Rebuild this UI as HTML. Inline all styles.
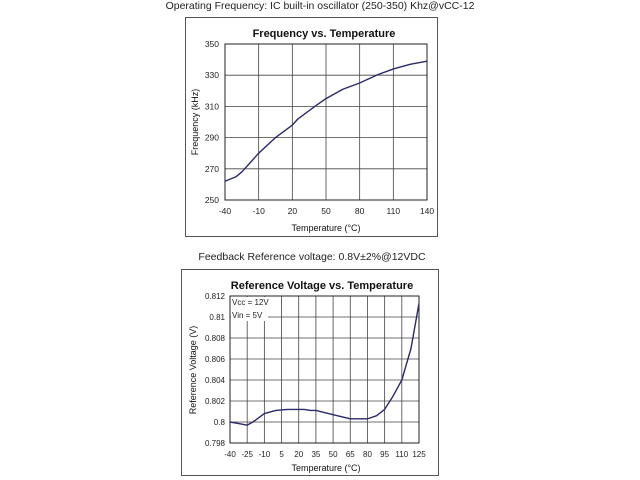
<!DOCTYPE html>
<html><head><meta charset="utf-8"><style>
body{margin:0;background:#fff;width:640px;height:480px;overflow:hidden;font-family:"Liberation Sans",sans-serif}
svg{position:absolute;left:0;top:0}
</style></head><body>
<svg id="s" width="640" height="480" xmlns="http://www.w3.org/2000/svg" font-family="Liberation Sans, sans-serif">
<text x="320" y="9" font-size="10.5" text-anchor="middle" fill="#222">Operating Frequency: IC built-in oscillator (250-350) Khz@vCC-12</text>
<rect x="185.5" y="17.5" width="252" height="219" fill="#fff" stroke="#555"/>
<text x="324" y="37" font-size="11" font-weight="bold" text-anchor="middle" fill="#111">Frequency vs. Temperature</text>
<text x="326" y="231" font-size="9" text-anchor="middle" fill="#111">Temperature (°C)</text>
<text transform="translate(198,122) rotate(-90)" font-size="9" text-anchor="middle" fill="#111">Frequency (kHz)</text>
<g id="g1"></g>
<text x="312" y="260" font-size="10.5" text-anchor="middle" fill="#222">Feedback Reference voltage: 0.8V±2%@12VDC</text>
<rect x="181.5" y="269.5" width="257" height="206" fill="#fff" stroke="#555"/>
<text x="322" y="289" font-size="11" font-weight="bold" text-anchor="middle" fill="#111">Reference Voltage vs. Temperature</text>
<text x="326" y="471" font-size="9" text-anchor="middle" fill="#111">Temperature (°C)</text>
<text transform="translate(196,370) rotate(-90)" font-size="9" text-anchor="middle" fill="#111">Reference Voltage (V)</text>
<g id="g2"></g>
</svg>
<script>
var NS="http://www.w3.org/2000/svg";
function el(p,t,a,tx){var e=document.createElementNS(NS,t);for(var k in a)e.setAttribute(k,a[k]);if(tx!=null)e.textContent=tx;p.appendChild(e);return e;}
// chart1
var g1=document.getElementById('g1');
var L=225,R=427,T=44,B=200;
function x1(t){return L+(t+40)/180*(R-L)} function y1(f){return B-(f-250)/100*(B-T)}
for(var t=-40;t<=140;t+=30){el(g1,'line',{x1:x1(t),x2:x1(t),y1:T,y2:B,stroke:'#444','stroke-width':0.8});el(g1,'text',{x:x1(t),y:B+14,'font-size':8.5,'text-anchor':'middle',fill:'#222'},t);}
for(var f=250;f<=350;f+=20){el(g1,'line',{x1:L,x2:R,y1:y1(f),y2:y1(f),stroke:'#444','stroke-width':0.8});el(g1,'text',{x:L-6,y:y1(f)+3,'font-size':8.5,'text-anchor':'end',fill:'#222'},f);}
el(g1,'rect',{x:L,y:T,width:R-L,height:B-T,fill:'none',stroke:'#222','stroke-width':1});
var p1=[[-40,262],[-30,265],[-25,268],[-10,280],[5,290],[20,298],[25,302],[40,310],[50,315],[65,321],[80,325],[95,330],[110,334],[125,337],[140,339]];
el(g1,'polyline',{points:p1.map(function(p){return x1(p[0])+','+y1(p[1])}).join(' '),fill:'none',stroke:'#2b2a6b','stroke-width':1.4,'stroke-linejoin':'round'});
// chart2
var g2=document.getElementById('g2');
var L2=230,R2=419,T2=296,B2=443;
function x2(t){return L2+(t+40)/165*(R2-L2)} function y2(v){return B2-(v-0.798)/0.014*(B2-T2)}
for(var t=-40;t<=125;t+=15){el(g2,'line',{x1:x2(t),x2:x2(t),y1:T2,y2:B2,stroke:'#444','stroke-width':0.8});el(g2,'text',{x:x2(t),y:B2+14,'font-size':8,'text-anchor':'middle',fill:'#222'},t);}
var vl=['0.798','0.8','0.802','0.804','0.806','0.808','0.81','0.812'];
for(var i=0;i<8;i++){var y=y2(0.798+i*0.002);el(g2,'line',{x1:L2,x2:R2,y1:y,y2:y,stroke:'#444','stroke-width':0.8});el(g2,'text',{x:L2-5,y:y+3,'font-size':8,'text-anchor':'end',fill:'#222'},vl[i]);}
el(g2,'rect',{x:L2+1,y:T2+1,width:37,height:24,fill:'#fff'});
el(g2,'text',{x:232,y:305,'font-size':8,fill:'#222'},'Vcc = 12V');
el(g2,'text',{x:232,y:318,'font-size':8,fill:'#222'},'Vin = 5V');
el(g2,'rect',{x:L2,y:T2,width:R2-L2,height:B2-T2,fill:'none',stroke:'#222','stroke-width':1});
var p2=[[-40,0.8],[-30,0.7998],[-25,0.7997],[-20,0.8],[-10,0.8008],[0,0.8011],[10,0.8012],[25,0.8012],[30,0.8011],[35,0.8011],[50,0.8007],[65,0.8003],[80,0.8003],[88,0.8006],[95,0.8012],[102,0.8024],[110,0.804],[118,0.807],[125,0.8113]];
el(g2,'polyline',{points:p2.map(function(p){return x2(p[0])+','+y2(p[1])}).join(' '),fill:'none',stroke:'#2b2a6b','stroke-width':1.4,'stroke-linejoin':'round'});
</script>
</body></html>
